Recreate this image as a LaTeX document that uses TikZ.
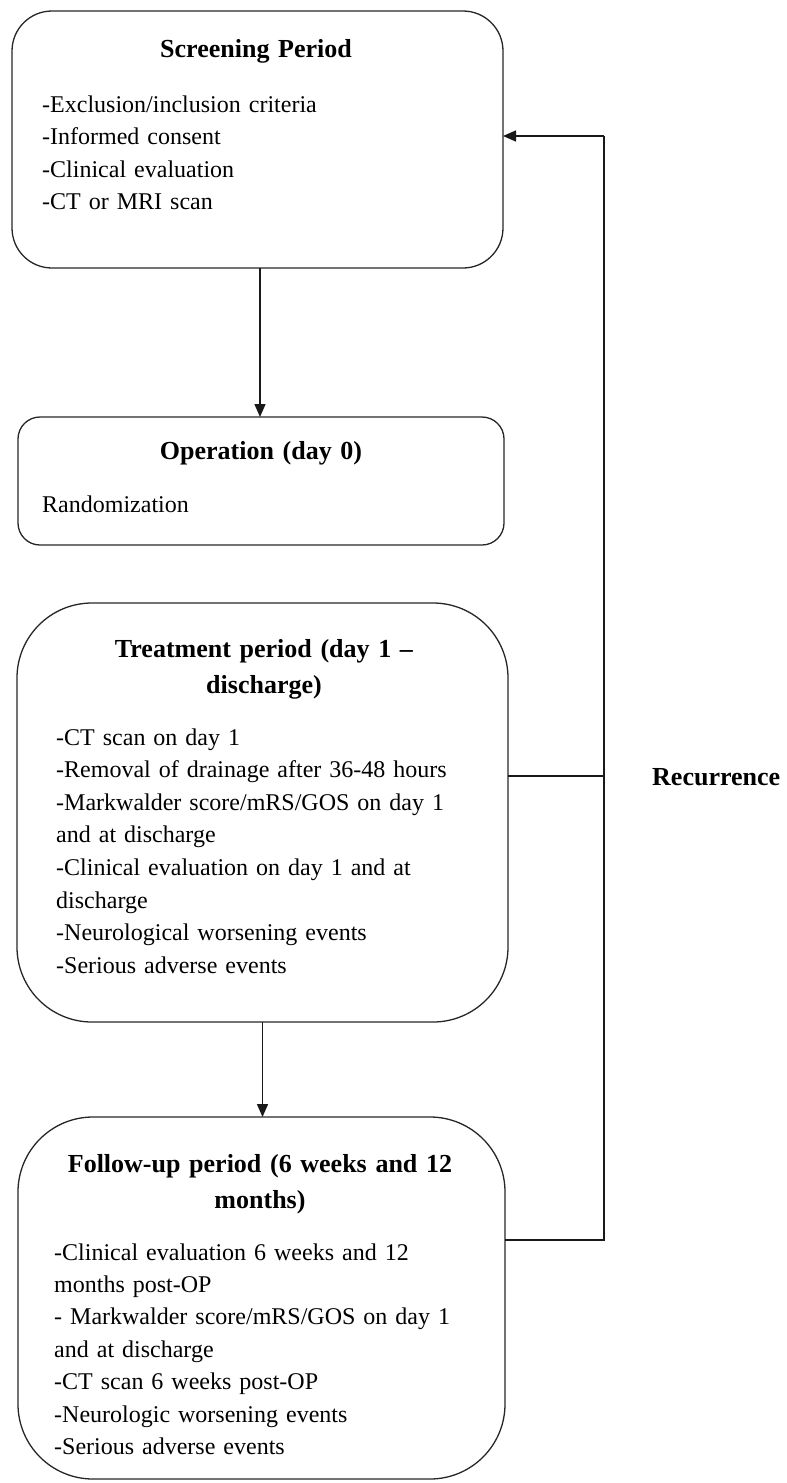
\documentclass[tikz,border=0pt]{standalone}
\usepackage{fontspec}
\setmainfont{Liberation Serif}
\usetikzlibrary{arrows.meta}
\begin{document}
\begin{tikzpicture}[x=1pt,y=-1pt,
  box/.style={draw=black!85, line width=1.3pt, inner sep=0pt, outer sep=0pt},
  ttl/.style={font=\fontsize{26}{36}\selectfont\bfseries, text width=480pt, align=center, anchor=base, inner sep=0pt},
  body/.style={font=\fontsize{24}{32.6}\selectfont, text width=480pt, align=left, anchor=base west, inner sep=0pt},
  conn/.style={draw=black!90, line width=1.5pt},
  arr/.style={conn, -{Triangle[width=11pt,length=13pt]}}
]
\useasboundingbox (0,0) rectangle (787,1483);
% boxes
\node[box, rounded corners=40pt, minimum width=491pt, minimum height=257pt] (b1) at (257.5,139.5) {};
\node[box, rounded corners=22pt, minimum width=486pt, minimum height=128pt] (b2) at (261,481) {};
\node[box, rounded corners=75pt, minimum width=491pt, minimum height=419pt] (b3) at (262.5,812.5) {};
\node[box, rounded corners=75pt, minimum width=487pt, minimum height=362pt] (b4) at (261.5,1298) {};
% texts
\node[ttl] (t1) at (256,57) {Screening Period};
\node[body] (x1) at (42,112) {-Exclusion/inclusion criteria\\-Informed consent\\-Clinical evaluation\\-CT or MRI scan};
\node[ttl] (t2) at (261,459) {Operation (day 0)};
\node[body] (x2) at (42,512) {Randomization};
\node[ttl] (t3) at (264,657) {Treatment period (day 1 –\\discharge)};
\node[body] (x3) at (56,745) {-CT scan on day 1\\-Removal of drainage after 36-48 hours\\-Markwalder score/mRS/GOS on day 1\\and at discharge\\-Clinical evaluation on day 1 and at\\discharge\\-Neurological worsening events\\-Serious adverse events};
\node[ttl] (t4) at (260,1172) {Follow-up period (6 weeks and 12\\months)};
\node[body, font=\fontsize{24}{32.4}\selectfont] (x4) at (54,1260) {-Clinical evaluation 6 weeks and 12\\months post-OP\\- Markwalder score/mRS/GOS on day 1\\and at discharge\\-CT scan 6 weeks post-OP\\-Neurologic worsening events\\-Serious adverse events};
\node[font=\fontsize{26}{30}\selectfont\bfseries, anchor=base west, inner sep=0pt] (rec) at (652,785) {Recurrence};
% connectors
\draw[arr] ([xshift=2.5pt]b1.south) -- ([xshift=2.5pt]b1.south |- b2.north);
\draw[arr] (b3.south) -- (b3.south |- b4.north);
\coordinate (r4) at (604,1240);
\coordinate (r3) at (604,776);
\coordinate (r1) at (604,136);
\draw[conn] (r4 -| b4.east) -- (r4) -- (r1);
\draw[arr] (r1) -- (r1 -| b1.east);
\draw[conn] (r3 -| b3.east) -- (r3);
\end{tikzpicture}
\end{document}
